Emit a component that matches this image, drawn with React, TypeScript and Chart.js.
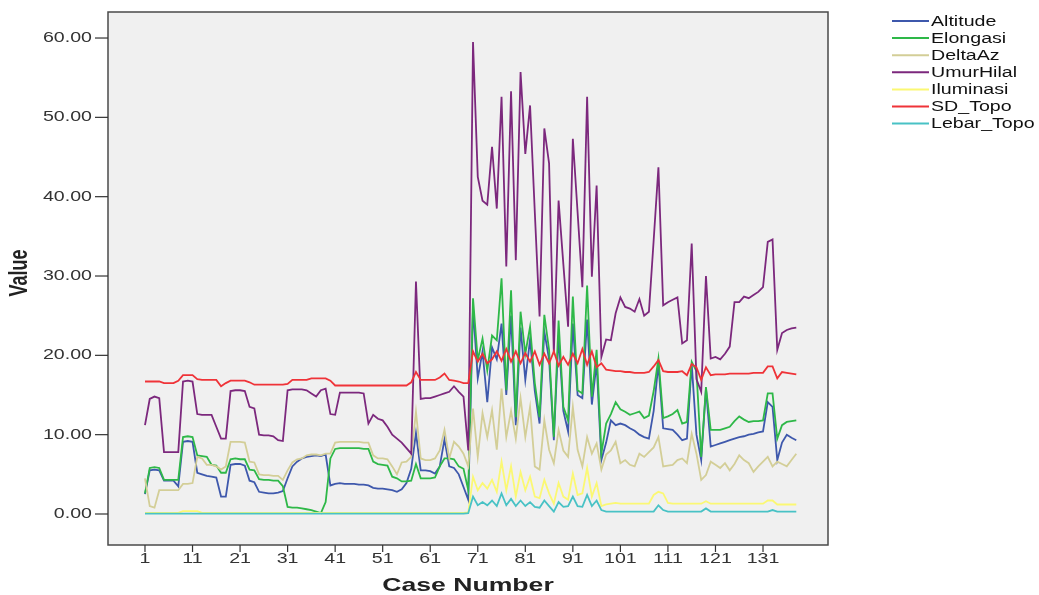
import React, { useEffect, useRef } from "react";
import { Chart, registerables } from "chart.js";

Chart.register(...registerables);

const seriesNames = ["Altitude", "Elongasi", "DeltaAz", "UmurHilal", "Iluminasi", "SD_Topo", "Lebar_Topo"];
const seriesColors = ["#3E58AC", "#2EB848", "#D3CE97", "#7C287D", "#FBF873", "#EF3338", "#48C2C5"];

const xTickValues = [1, 11, 21, 31, 41, 51, 61, 71, 81, 91, 101, 111, 121, 131];
const yTickValues = [0, 10, 20, 30, 40, 50, 60];

const altitude = [
  2.5, 5.5, 5.6, 5.5, 4.2, 4.2, 4.2, 3.5, 9.1, 9.2,
  9.1, 5.2, 5.0, 4.8, 4.7, 4.6, 2.2, 2.2, 6.2, 6.3,
  6.3, 6.1, 4.2, 4.0, 2.8, 2.7, 2.6, 2.6, 2.7, 2.9,
  4.5, 6.0, 6.6, 7.0, 7.2, 7.3, 7.4, 7.3, 7.5, 3.6,
  3.8, 3.9, 3.8, 3.8, 3.8, 3.7, 3.7, 3.6, 3.3, 3.2,
  3.2, 3.1, 3.0, 2.8, 3.1, 3.9, 5.7, 10.2, 5.5, 5.5,
  5.4, 5.1, 6.0, 9.4, 6.0, 5.8, 5.0, 3.4, 1.8, 26.0,
  17.1, 20.5, 14.1, 21.0, 19.5, 24.0, 15.0, 25.0, 11.2, 23.5,
  16.9, 22.0, 15.5, 11.4, 23.0, 19.5, 9.3, 22.5, 13.0, 10.4,
  24.0, 15.0, 14.6, 24.5, 13.8, 19.0, 6.8, 9.0, 11.8, 11.2,
  11.4, 11.2, 10.8, 10.5, 10.0, 9.7, 9.5, 13.0, 18.9, 10.8,
  10.7, 10.6, 10.0, 9.3, 9.5, 18.9, 10.0, 6.8, 15.8, 8.5,
  8.7, 8.9, 9.1, 9.3, 9.5, 9.7, 9.8, 10.0, 10.1, 10.3,
  10.4, 14.1, 13.5, 6.8, 9.0, 10.0, 9.6, 9.3,
];

const elongasi = [
  2.6, 5.8, 5.9, 5.8, 4.3, 4.3, 4.3, 4.3, 9.7, 9.8,
  9.7, 7.4, 7.3, 7.2, 6.2, 6.1, 5.2, 5.2, 6.9, 7.0,
  6.9, 6.9, 5.6, 5.5, 4.4, 4.3, 4.3, 4.2, 4.2, 3.5,
  0.9, 0.8, 0.8, 0.7, 0.6, 0.5, 0.3, 0.1, 1.5, 7.0,
  8.2, 8.3, 8.3, 8.3, 8.3, 8.3, 8.2, 8.2, 6.6, 6.3,
  6.2, 6.1, 4.7, 4.5, 4.1, 4.1, 4.2, 6.3, 4.5, 4.5,
  4.5, 4.6, 6.0, 7.0, 7.0, 6.9, 6.0, 5.7, 3.0, 27.2,
  19.4, 22.1, 18.1, 22.5, 21.9, 29.7, 15.6, 28.2, 12.2, 25.5,
  20.2, 23.6, 16.5, 12.2, 25.1, 20.7, 9.7, 24.4, 13.5, 11.8,
  27.4, 15.6, 15.2, 28.8, 14.8, 20.7, 7.6, 11.4, 12.6, 14.1,
  13.2, 12.9, 12.5, 12.7, 12.9, 12.1, 12.4, 15.5, 19.6, 12.1,
  12.3, 12.6, 13.1, 11.4, 11.6, 19.2, 18.0, 7.2, 16.0, 10.6,
  10.6, 10.6, 10.8, 11.0, 11.7, 12.3, 11.9, 11.6, 11.7, 11.7,
  11.8, 15.2, 15.2, 9.5, 11.2, 11.6, 11.7, 11.8,
];

const deltaAz = [
  4.5, 1.0, 0.8, 3.0, 3.0, 3.0, 3.0, 3.0, 3.8, 3.8,
  3.9, 7.2, 7.0, 6.2, 6.2, 6.0, 5.6, 6.0, 9.1, 9.1,
  9.1, 9.0, 6.6, 6.5, 5.0, 4.9, 4.9, 4.8, 4.8, 4.3,
  5.5, 6.5, 6.9, 7.0, 7.4, 7.5, 7.5, 7.4, 7.6, 7.6,
  9.0, 9.1, 9.1, 9.1, 9.1, 9.1, 9.0, 9.0, 7.4, 7.0,
  7.0, 6.9, 6.0, 5.0, 6.5, 6.6, 7.2, 12.9, 7.0, 6.8,
  6.8, 7.0, 8.0, 10.6, 7.0, 9.1, 8.5, 7.6, 6.0, 13.3,
  7.2, 12.7, 9.7, 13.1, 8.1, 15.8, 9.7, 13.0, 9.5, 14.6,
  9.7, 13.5, 6.0, 5.6, 11.8, 8.1, 6.4, 10.6, 8.0, 7.2,
  13.5, 8.1, 6.0, 9.7, 7.6, 8.9, 5.6, 7.5, 8.0, 9.1,
  6.4, 6.8, 6.2, 6.0, 7.6, 7.2, 7.8, 8.4, 9.7, 6.0,
  6.1, 6.2, 6.8, 7.0, 6.4, 10.1, 7.6, 4.3, 4.9, 6.6,
  6.2, 5.8, 6.4, 5.5, 6.3, 7.4, 6.8, 6.4, 5.3, 6.0,
  6.6, 7.2, 6.0, 6.6, 6.3, 6.0, 6.8, 7.6,
];

const umurHilal = [
  11.2, 14.5, 14.8, 14.6, 7.8, 7.8, 7.8, 7.8, 16.7, 16.8,
  16.7, 12.6, 12.5, 12.5, 12.5, 11.0, 9.5, 9.5, 15.5, 15.6,
  15.6, 15.5, 13.5, 13.3, 10.0, 9.9, 9.9, 9.8, 9.3, 9.2,
  15.6, 15.7, 15.7, 15.7, 15.6, 15.2, 14.8, 15.6, 15.8, 12.6,
  12.5, 15.3, 15.3, 15.3, 15.3, 15.3, 15.2, 11.4, 12.5, 12.0,
  11.8, 11.0, 10.0, 9.5, 9.0, 8.3, 7.6, 29.3, 14.5, 14.6,
  14.6, 14.8, 15.0, 15.2, 15.4, 16.1, 15.4, 14.8, 8.0, 59.5,
  42.5, 39.5, 39.0, 46.3, 38.5, 52.6, 31.2, 53.3, 32.0, 55.7,
  45.4, 51.5, 38.0, 24.9, 48.6, 44.2, 20.2, 39.5, 31.5, 23.6,
  47.3, 38.0, 28.6, 52.6, 29.9, 41.4, 19.8, 22.0, 21.9, 25.3,
  27.3, 26.1, 25.9, 25.5, 27.1, 25.0, 25.5, 34.5, 43.7, 26.3,
  26.7, 27.0, 27.3, 21.5, 21.9, 34.1, 17.0, 15.4, 30.0, 19.6,
  19.8, 19.5, 20.2, 21.1, 26.7, 26.7, 27.4, 27.2, 27.6, 28.0,
  28.6, 34.3, 34.6, 20.7, 22.8, 23.2, 23.4, 23.5,
];

const iluminasi = [
  0.15, 0.15, 0.15, 0.15, 0.15, 0.15, 0.15, 0.15, 0.35, 0.35,
  0.35, 0.35, 0.15, 0.15, 0.15, 0.15, 0.15, 0.15, 0.15, 0.15,
  0.15, 0.15, 0.15, 0.15, 0.15, 0.15, 0.15, 0.15, 0.15, 0.15,
  0.15, 0.15, 0.15, 0.15, 0.15, 0.15, 0.15, 0.15, 0.15, 0.15,
  0.15, 0.15, 0.15, 0.15, 0.15, 0.15, 0.15, 0.15, 0.15, 0.15,
  0.15, 0.15, 0.15, 0.15, 0.15, 0.15, 0.15, 0.15, 0.15, 0.15,
  0.15, 0.15, 0.15, 0.15, 0.15, 0.15, 0.15, 0.15, 0.2, 4.7,
  3.0, 3.9, 3.2, 4.3, 2.8, 6.6, 3.0, 6.0, 2.2, 5.3,
  3.0, 4.7, 2.2, 2.0, 4.3, 2.6, 1.3, 3.9, 2.2, 1.8,
  5.1, 2.4, 2.6, 5.8, 2.2, 3.9, 1.0, 1.2, 1.3, 1.4,
  1.3, 1.3, 1.3, 1.3, 1.3, 1.3, 1.3, 2.4, 2.8, 2.6,
  1.4, 1.3, 1.3, 1.3, 1.3, 1.3, 1.3, 1.3, 1.6, 1.3,
  1.3, 1.3, 1.3, 1.3, 1.3, 1.3, 1.3, 1.3, 1.3, 1.3,
  1.3, 1.7, 1.7, 1.2, 1.2, 1.2, 1.2, 1.2,
];

const sdTopo = [
  16.7, 16.7, 16.7, 16.7, 16.5, 16.5, 16.5, 16.8, 17.5, 17.5,
  17.5, 17.0, 16.9, 16.9, 16.9, 16.9, 16.1, 16.5, 16.8, 16.8,
  16.8, 16.8, 16.6, 16.3, 16.3, 16.3, 16.3, 16.3, 16.3, 16.3,
  16.4, 16.9, 16.9, 16.9, 16.9, 17.1, 17.1, 17.1, 17.1, 16.8,
  16.2, 16.2, 16.2, 16.2, 16.2, 16.2, 16.2, 16.2, 16.2, 16.2,
  16.2, 16.2, 16.2, 16.2, 16.2, 16.2, 16.6, 17.9, 16.9, 16.9,
  16.9, 16.9, 17.2, 17.7, 16.9, 16.8, 16.7, 16.5, 16.5, 20.5,
  19.2, 20.2, 19.0, 19.5, 20.5, 19.3, 20.8, 19.2, 20.5, 19.0,
  20.3, 19.2, 20.5, 18.8, 20.2, 19.0, 20.5, 18.7, 19.8, 18.8,
  20.2, 19.0, 20.8, 18.8, 20.5, 18.5, 19.0, 18.2, 18.1, 18.0,
  18.0, 17.9, 17.9, 17.8, 17.8, 17.8, 17.9, 18.6, 19.4, 18.0,
  17.9, 17.9, 17.9, 18.0, 17.5, 18.9, 18.5, 16.9, 18.5, 17.5,
  17.6, 17.6, 17.6, 17.7, 17.7, 17.7, 17.7, 17.7, 17.8, 17.8,
  17.8, 18.6, 18.6, 17.1, 17.9, 17.8, 17.7, 17.6,
];

const lebarTopo = [
  0.05, 0.05, 0.05, 0.05, 0.05, 0.05, 0.05, 0.05, 0.05, 0.05,
  0.05, 0.05, 0.05, 0.05, 0.05, 0.05, 0.05, 0.05, 0.05, 0.05,
  0.05, 0.05, 0.05, 0.05, 0.05, 0.05, 0.05, 0.05, 0.05, 0.05,
  0.05, 0.05, 0.05, 0.05, 0.05, 0.05, 0.05, 0.05, 0.05, 0.05,
  0.05, 0.05, 0.05, 0.05, 0.05, 0.05, 0.05, 0.05, 0.05, 0.05,
  0.05, 0.05, 0.05, 0.05, 0.05, 0.05, 0.05, 0.05, 0.05, 0.05,
  0.05, 0.05, 0.05, 0.05, 0.05, 0.05, 0.05, 0.05, 0.1, 2.2,
  1.1, 1.5, 1.1, 1.7, 1.0, 2.6, 1.1, 1.9, 1.0, 1.7,
  1.0, 1.5, 0.9, 0.8, 1.7, 1.0, 0.3, 1.5, 0.9, 1.0,
  2.2, 1.0, 0.9, 2.4, 1.0, 1.7, 0.5, 0.3, 0.3, 0.3,
  0.3, 0.3, 0.3, 0.3, 0.3, 0.3, 0.3, 0.3, 1.1, 0.5,
  0.3, 0.3, 0.3, 0.3, 0.3, 0.3, 0.3, 0.3, 0.7, 0.3,
  0.3, 0.3, 0.3, 0.3, 0.3, 0.3, 0.3, 0.3, 0.3, 0.3,
  0.3, 0.3, 0.5, 0.3, 0.3, 0.3, 0.3, 0.3,
];

const seriesValues = [altitude, elongasi, deltaAz, umurHilal, iluminasi, sdTopo, lebarTopo];

const STRETCH = 1.4;
const FONT = "'Liberation Sans', Arial, sans-serif";

function stretchedText(ctx: CanvasRenderingContext2D, text: string, x: number, y: number, align: CanvasTextAlign, baseline: CanvasTextBaseline, font: string, color: string) {
  ctx.save();
  ctx.translate(x, y);
  ctx.scale(STRETCH, 1);
  ctx.font = font;
  ctx.fillStyle = color;
  ctx.textAlign = align;
  ctx.textBaseline = baseline;
  ctx.fillText(text, 0, 0);
  ctx.restore();
}

const framePlugin = {
  id: "spssFrame",
  beforeDraw(chart: any) {
    const { ctx, chartArea: a } = chart;
    ctx.save();
    ctx.fillStyle = "#ffffff";
    ctx.fillRect(0, 0, chart.width, chart.height);
    ctx.fillStyle = "#f0f0f0";
    ctx.fillRect(a.left, a.top, a.right - a.left, a.bottom - a.top);
    ctx.restore();
  },
  afterDraw(chart: any) {
    const { ctx, chartArea: a } = chart;
    const xs = chart.scales.x;
    const ys = chart.scales.y;
    ctx.save();
    // frame
    ctx.strokeStyle = "#4a4a4a";
    ctx.lineWidth = 1.5;
    ctx.strokeRect(a.left, a.top, a.right - a.left, a.bottom - a.top);
    // y ticks
    ctx.lineWidth = 1.2;
    ctx.strokeStyle = "#333";
    yTickValues.forEach((v) => {
      const y = ys.getPixelForValue(v);
      ctx.beginPath();
      ctx.moveTo(a.left - 13, y);
      ctx.lineTo(a.left, y);
      ctx.stroke();
      stretchedText(ctx, v.toFixed(2), a.left - 16, y, "right", "middle", `14px ${FONT}`, "#333");
    });
    // x ticks
    xTickValues.forEach((v) => {
      const x = xs.getPixelForValue(v);
      ctx.beginPath();
      ctx.moveTo(x, a.bottom);
      ctx.lineTo(x, a.bottom + 7);
      ctx.stroke();
      stretchedText(ctx, String(v), x, a.bottom + 7, "center", "top", `14px ${FONT}`, "#333");
    });
    // axis titles
    stretchedText(ctx, "Case Number", (a.left + a.right) / 2, 586, "center", "middle", `bold 19px ${FONT}`, "#222");
    ctx.save();
    ctx.translate(20, 273);
    ctx.scale(STRETCH, 1);
    ctx.rotate(-Math.PI / 2);
    ctx.font = `bold 18px ${FONT}`;
    ctx.fillStyle = "#222";
    ctx.textAlign = "center";
    ctx.textBaseline = "middle";
    ctx.fillText("Value", 0, 0);
    ctx.restore();
    // legend
    seriesNames.forEach((name, i) => {
      const y = 21 + i * 17.1;
      ctx.strokeStyle = seriesColors[i];
      ctx.lineWidth = 2;
      ctx.beginPath();
      ctx.moveTo(892, y);
      ctx.lineTo(929, y);
      ctx.stroke();
      stretchedText(ctx, name, 931, y + 1, "left", "middle", `14px ${FONT}`, "#111");
    });
    ctx.restore();
  },
};

export default function App() {
  const canvasRef = useRef<HTMLCanvasElement | null>(null);

  useEffect(() => {
    const canvas = canvasRef.current;
    if (!canvas) return;
    const datasets = seriesNames.map((name, i) => ({
      label: name,
      data: seriesValues[i].map((v, k) => ({ x: k + 1, y: v })),
      borderColor: seriesColors[i],
      backgroundColor: seriesColors[i],
      borderWidth: 1.8,
      pointRadius: 0,
      tension: 0,
      fill: false,
      order: seriesNames.length - i,
    }));
    const chart = new Chart(canvas, {
      type: "line",
      data: { datasets },
      options: {
        animation: false,
        responsive: false,
        devicePixelRatio: 1,
        layout: { padding: { left: 108, right: 211, top: 12, bottom: 50 } },
        scales: {
          x: { type: "linear", min: -6.78, max: 144.67, display: false },
          y: { type: "linear", min: -3.908, max: 63.28, display: false },
        },
        plugins: {
          legend: { display: false },
          tooltip: { enabled: false },
        },
      },
      plugins: [framePlugin],
    });
    return () => chart.destroy();
  }, []);

  return (
    <div style={{ position: "fixed", left: 0, top: 0, width: 1039, height: 595, background: "#fff" }}>
      <canvas ref={canvasRef} width={1039} height={595} style={{ width: 1039, height: 595 }} />
    </div>
  );
}
